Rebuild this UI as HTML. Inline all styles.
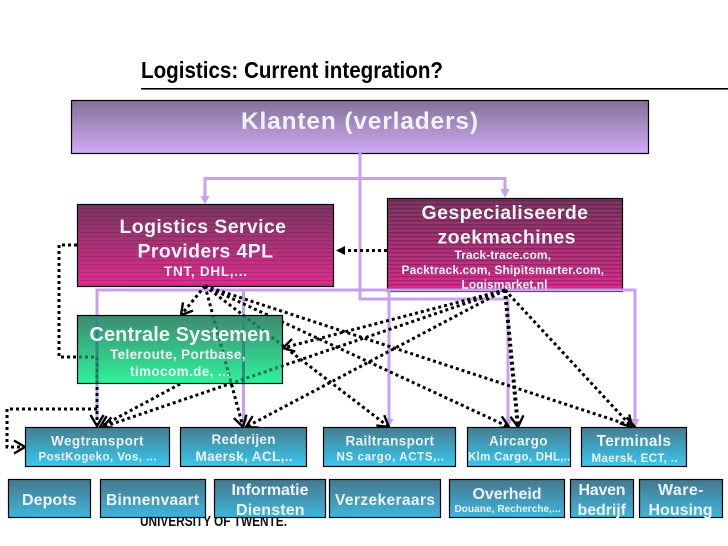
<!DOCTYPE html>
<html><head><meta charset="utf-8"><style>
html,body{margin:0;padding:0;background:#fff}
svg{display:block}
text{font-family:"Liberation Sans",Arial,sans-serif;font-weight:bold;fill:#eef3f8}
</style></head><body>
<svg width="728" height="546" viewBox="0 0 728 546" xmlns="http://www.w3.org/2000/svg">
<defs>
<linearGradient id="gk" x1="0" y1="0" x2="0" y2="1"><stop offset="0" stop-color="#837096"/><stop offset="1" stop-color="#d0abf6"/></linearGradient>
<linearGradient id="gm" x1="0" y1="0" x2="0" y2="1"><stop offset="0" stop-color="#7b3560"/><stop offset="1" stop-color="#de2c90"/></linearGradient>
<linearGradient id="gg" x1="0" y1="0" x2="0" y2="1"><stop offset="0" stop-color="#3d8a6e"/><stop offset="1" stop-color="#30f29a"/></linearGradient>
<linearGradient id="gb" x1="0" y1="0" x2="0" y2="1"><stop offset="0" stop-color="#477c90"/><stop offset="1" stop-color="#36c9f0"/></linearGradient>
<linearGradient id="gc" x1="0" y1="0" x2="0" y2="1"><stop offset="0" stop-color="#46788e"/><stop offset="1" stop-color="#3eb6dc"/></linearGradient>
<pattern id="s1" width="10" height="4" patternUnits="userSpaceOnUse"><rect width="10" height="1" fill="#000" opacity=".13"/></pattern>
<pattern id="s2" width="10" height="4" patternUnits="userSpaceOnUse"><rect width="10" height="1.4" fill="#000" opacity=".22"/></pattern>
<marker id="v" markerUnits="userSpaceOnUse" markerWidth="18" markerHeight="18" refX="14" refY="9" orient="auto"><path d="M3 2.5L14 9L3 15.5" fill="none" stroke="#000" stroke-width="2.4"/></marker>
<clipPath id="cb"><rect x="77.5" y="315.5" width="205" height="68"/></clipPath>
</defs>

<text x="141" y="78" font-size="23" textLength="302" lengthAdjust="spacingAndGlyphs" style="fill:#000">Logistics: Current integration?</text>
<rect x="141" y="88" width="587" height="1.6" fill="#000"/>
<text x="140" y="526" font-size="14.5" textLength="147" lengthAdjust="spacingAndGlyphs" style="fill:#111">UNIVERSITY OF TWENTE.</text>

<!-- upper boxes -->
<rect x="71.5" y="100.5" width="577" height="53" fill="url(#gk)" stroke="#000" stroke-width="1.2"/>
<rect x="77.5" y="204.5" width="256" height="82" fill="url(#gm)" stroke="#000" stroke-width="1.2"/>
<rect x="77.5" y="204.5" width="256" height="82" fill="url(#s1)"/>
<rect x="387.5" y="198.5" width="235" height="93" fill="url(#gm)" stroke="#000" stroke-width="1.2"/>
<rect x="388" y="199" width="234" height="92" fill="url(#s2)"/>

<text x="241" y="129" font-size="24.5" textLength="237" lengthAdjust="spacing">Klanten (verladers)</text>
<text x="119.5" y="233" font-size="19.5" textLength="166.5" lengthAdjust="spacing">Logistics Service</text>
<text x="137.5" y="257.5" font-size="19.5" textLength="135.5" lengthAdjust="spacing">Providers 4PL</text>
<text x="164" y="276" font-size="13.5" textLength="83" lengthAdjust="spacing">TNT, DHL,...</text>
<text x="421.5" y="219" font-size="19.5" textLength="166.5" lengthAdjust="spacing">Gespecialiseerde</text>
<text x="437.5" y="243.5" font-size="19.5" textLength="138" lengthAdjust="spacing">zoekmachines</text>
<text x="454.5" y="259" font-size="12" textLength="96.5" lengthAdjust="spacing">Track-trace.com,</text>
<text x="401.5" y="274" font-size="12" textLength="202.5" lengthAdjust="spacing">Packtrack.com, Shipitsmarter.com,</text>
<text x="461.5" y="288.5" font-size="12" textLength="86" lengthAdjust="spacing">Logismarket.nl</text>

<!-- purple connectors -->
<g fill="none" stroke="#c9a0f0" stroke-width="3">
<path d="M360 153V299H508V420"/>
<path d="M360 178.5H205V198"/>
<path d="M360 178.5H505V192"/>
<path d="M97 420V290H635V420"/>
<path d="M243.5 290V420"/>
<path d="M389 290V420"/>
</g>
<g fill="#c9a0f0">
<path d="M200.5 196H209.5L205 204.5Z"/>
<path d="M500.500 189H509.500L505 198Z"/>
<path d="M239 419H248L243.500 427.500Z"/>
<path d="M384.500 419H393.500L389 427.500Z"/>
<path d="M503.500 419H512.500L508 427.500Z"/>
<path d="M630.500 419H639.500L635 427.500Z"/>
</g>

<!-- dotted connectors -->
<g fill="none" stroke="#000" stroke-width="3" stroke-dasharray="3 3">
<path d="M77 245H59V357H97"/>
<path d="M97 357V426" marker-end="url(#v)"/>
<path d="M97 409H7V447H25" marker-end="url(#v)"/>
<path d="M205 286L181 315" marker-end="url(#v)"/>
<path d="M205 286L243 427" marker-end="url(#v)"/>
<path d="M205 286L389 427" marker-end="url(#v)"/>
<path d="M205 286L509 427" marker-end="url(#v)"/>
<path d="M205 286L635 427" marker-end="url(#v)"/>
<path d="M505 290L283 348" marker-end="url(#v)"/>
<path d="M505 290L103 427" marker-end="url(#v)"/>
<path d="M505 290L246 427" marker-end="url(#v)"/>
<path d="M505 290L518 427" stroke-width="4" marker-end="url(#v)"/>
<path d="M505 290L632 427" marker-end="url(#v)"/>
<path d="M180 384L100 427" marker-end="url(#v)"/>
</g>
<path d="M387 250.5H345" fill="none" stroke="#000" stroke-width="3" stroke-dasharray="3 3"/>
<path d="M345 246L336 250.5L345 255Z" fill="#000"/>

<!-- Centrale: opaque gradient, then tinted copies of the lines beneath it -->
<rect x="77.5" y="315.500" width="205" height="68" fill="url(#gg)"/>
<g clip-path="url(#cb)" fill="none">
<g stroke="#2f8a80" stroke-width="3">
<path d="M97 420V290"/>
<path d="M243.5 290V420"/>
</g>
<g stroke="#1a7258" stroke-width="3" stroke-dasharray="3 3">
<path d="M77 245H59V357H97"/>
<path d="M97 357V426"/>
<path d="M205 286L243 427"/>
<path d="M205 286L389 427"/>
<path d="M505 290L103 427"/>
</g>
</g>
<rect x="77.5" y="315.5" width="205" height="68" fill="none" stroke="#000" stroke-width="1.2"/>
<text x="89.5" y="341" font-size="20" textLength="181" lengthAdjust="spacing">Centrale Systemen</text>
<text x="110" y="359" font-size="13.5" textLength="135.5" lengthAdjust="spacing">Teleroute, Portbase,</text>
<text x="130" y="376" font-size="13.5" textLength="100" lengthAdjust="spacing">timocom.de, ...</text>

<!-- row 1 -->
<g stroke="#000" stroke-width="1.2" fill="url(#gb)">
<rect x="25.5" y="427.5" width="144" height="39"/>
<rect x="180.5" y="427.5" width="126" height="39"/>
<rect x="323.5" y="427.5" width="132" height="39"/>
<rect x="467.5" y="427.5" width="103" height="39"/>
<rect x="581.5" y="427.5" width="105" height="39"/>
</g>
<text x="51" y="445.5" font-size="13.5" textLength="92.5" lengthAdjust="spacing">Wegtransport</text>
<text x="38.5" y="460.5" font-size="11.5" textLength="118" lengthAdjust="spacing">PostKogeko, Vos, ...</text>
<text x="211.5" y="444" font-size="13.5" textLength="64" lengthAdjust="spacing">Rederijen</text>
<text x="195.5" y="461" font-size="13.5" textLength="97" lengthAdjust="spacing">Maersk, ACL,..</text>
<text x="345.5" y="445.5" font-size="13.5" textLength="88.5" lengthAdjust="spacing">Railtransport</text>
<text x="336.5" y="460.5" font-size="11.5" textLength="107.5" lengthAdjust="spacing">NS cargo,  ACTS,..</text>
<text x="489" y="445.5" font-size="13.5" textLength="58.5" lengthAdjust="spacing">Aircargo</text>
<text x="468" y="460.5" font-size="11.5" textLength="102.5" lengthAdjust="spacing">Klm Cargo, DHL,..</text>
<text x="596.5" y="446" font-size="15.5" textLength="74.5" lengthAdjust="spacing">Terminals</text>
<text x="591.5" y="462" font-size="11.5" textLength="86" lengthAdjust="spacing">Maersk, ECT, ..</text>

<!-- row 2 -->
<g stroke="#000" stroke-width="1.2" fill="url(#gc)">
<rect x="8.5" y="479.5" width="82" height="38"/>
<rect x="100.5" y="479.5" width="105" height="38"/>
<rect x="214.5" y="479.5" width="111" height="38"/>
<rect x="329.5" y="479.5" width="111" height="38"/>
<rect x="449.5" y="479.5" width="115" height="38"/>
<rect x="570.5" y="479.5" width="63" height="38"/>
<rect x="639.5" y="479.5" width="83" height="38"/>
</g>
<text x="22" y="505" font-size="16" textLength="54.5" lengthAdjust="spacing">Depots</text>
<text x="106" y="505" font-size="15.5" textLength="93" lengthAdjust="spacing">Binnenvaart</text>
<text x="231.5" y="495" font-size="16" textLength="77" lengthAdjust="spacing">Informatie</text>
<text x="236" y="515" font-size="16" textLength="68.5" lengthAdjust="spacing">Diensten</text>
<text x="335" y="505" font-size="15.5" textLength="100" lengthAdjust="spacing">Verzekeraars</text>
<text x="472.5" y="499" font-size="16" textLength="69" lengthAdjust="spacing">Overheid</text>
<text x="454.5" y="512" font-size="10" textLength="106" lengthAdjust="spacing">Douane, Recherche,...</text>
<text x="578.5" y="495" font-size="16" textLength="47" lengthAdjust="spacing">Haven</text>
<text x="577.5" y="515" font-size="16" textLength="48.5" lengthAdjust="spacing">bedrijf</text>
<text x="658" y="495" font-size="16" textLength="45.5" lengthAdjust="spacing">Ware-</text>
<text x="648.5" y="515" font-size="16" textLength="64" lengthAdjust="spacing">Housing</text>
</svg>
</body></html>
